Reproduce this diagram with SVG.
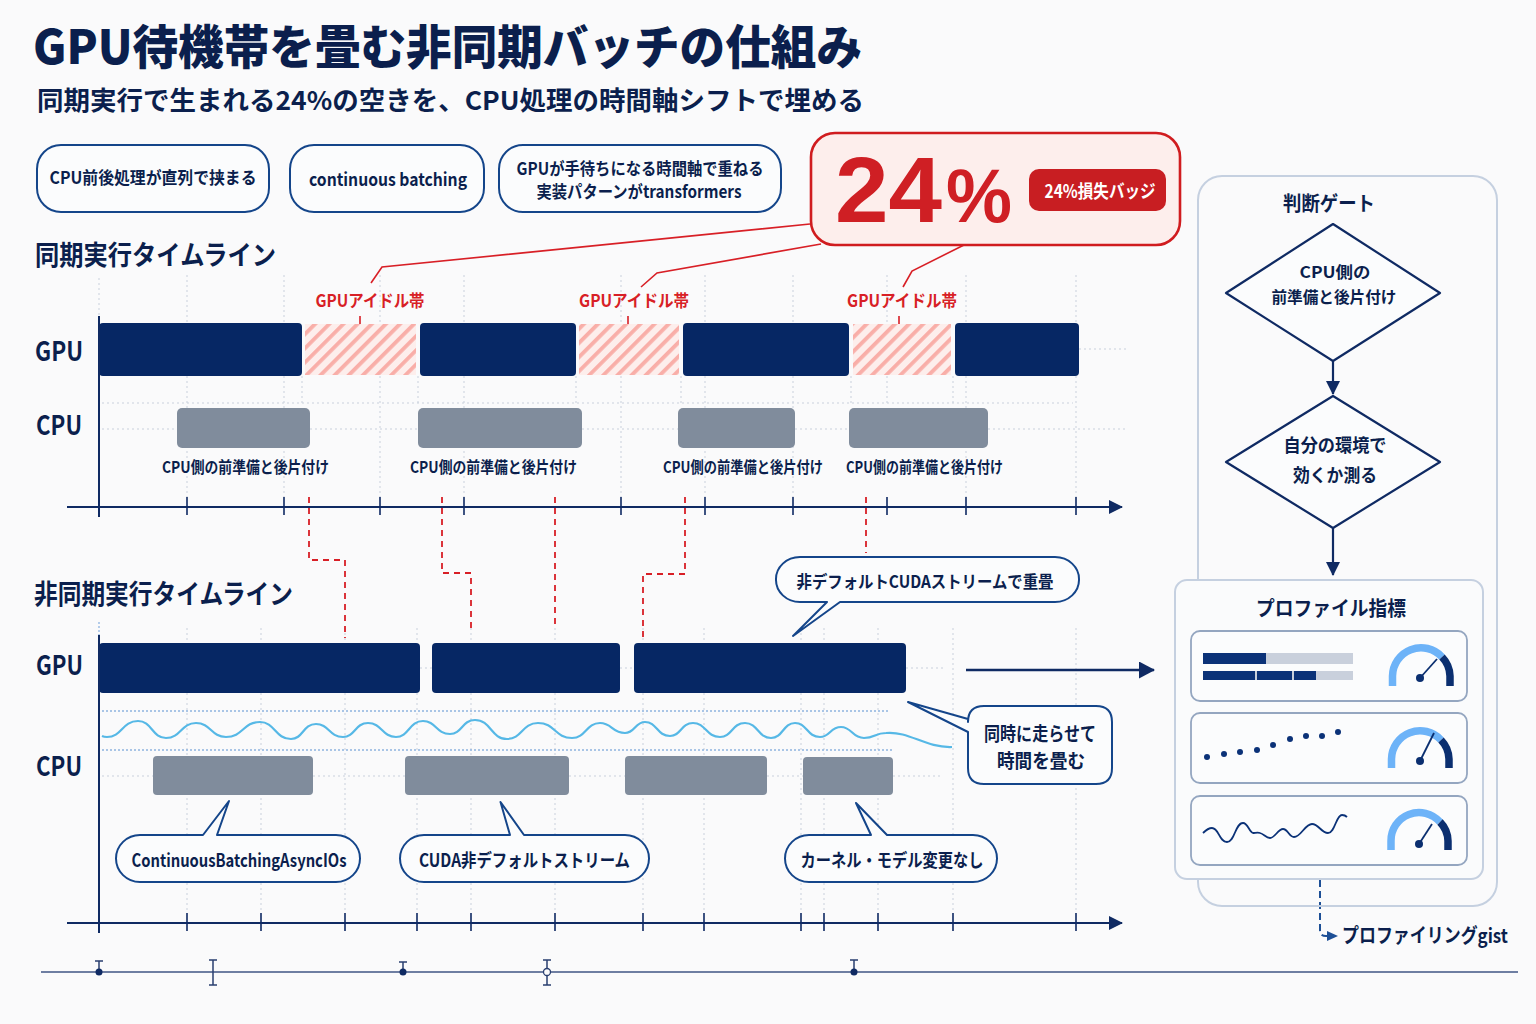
<svg xmlns="http://www.w3.org/2000/svg" width="1536" height="1024" viewBox="0 0 1536 1024">
<style>
text{font-family:"Noto Sans CJK JP","Noto Sans",sans-serif;fill:#0b1f4d;font-weight:700;text-anchor:middle;dominant-baseline:central}
.st{text-anchor:start}
.b{font-weight:700}
.grid{stroke:#c9d0dc;stroke-width:1;stroke-dasharray:2 3;fill:none}
.bl{stroke:#8fb4e0;stroke-width:1.3;stroke-dasharray:2 2;fill:none}
.axis{stroke:#0f2a63;stroke-width:2;fill:none}
.tick{stroke:#0f2a63;stroke-width:1.6;fill:none}
.gpu{fill:#062764}
.cpu{fill:#808c9c}
.idle{fill:url(#hatch)}
.red{stroke:#d81f26;stroke-width:1.6;fill:none}
.reddash{stroke:#d81f26;stroke-width:1.8;stroke-dasharray:6 5;fill:none}
.pill{fill:#fbfcfd;stroke:#14458a;stroke-width:2}
.call{fill:#fbfcfd;stroke:#14458a;stroke-width:2;stroke-linejoin:round}
.idlel{fill:#d81f26;font-size:17px}
.cap{font-size:16px}
.hd{font-size:27px;font-weight:700}
.card{fill:#fbfcfd;stroke:#94a6c0;stroke-width:1.8}
.diam{fill:#fbfcfd;stroke:#0f2a63;stroke-width:2.2;stroke-linejoin:round}
.lt{fill:none;stroke:#6db3f8;stroke-width:7.500}
.dk{fill:none;stroke:#0b2f70;stroke-width:7.500}
.ndl{stroke:#0b2f70;stroke-width:1.8;fill:none}
.hub{fill:#0b2f70}
.bg{fill:#c9d0dc}
.fg{fill:#0b3278}
.mk{stroke:#2a3f70;stroke-width:1.5;fill:none}
</style>
<defs>
<pattern id="hatch" width="10" height="10" patternUnits="userSpaceOnUse" patternTransform="rotate(45)">
<rect width="10" height="10" fill="#fdeeec"/><rect width="3.800" height="10" fill="#f9aea8"/>
</pattern>
<marker id="ah" markerWidth="16" markerHeight="16" refX="13" refY="7" orient="auto" markerUnits="userSpaceOnUse"><path d="M0,0L14,7L0,14Z" fill="#0f2a63"/></marker>
<marker id="ahl" markerWidth="18" markerHeight="18" refX="15" refY="8.500" orient="auto" markerUnits="userSpaceOnUse"><path d="M0,0L16,8.500L0,17Z" fill="#0f2a63"/></marker>
</defs>
<rect width="1536" height="1024" fill="#fafafb"/>

<g id="heading">
<text class="st" x="33" y="43" font-size="47" textLength="829" lengthAdjust="spacingAndGlyphs" style="font-weight:900">GPU待機帯を畳む非同期バッチの仕組み</text>
<text class="st b" x="37" y="98" font-size="26" textLength="827" lengthAdjust="spacingAndGlyphs">同期実行で生まれる24%の空きを、CPU処理の時間軸シフトで埋める</text>
</g>

<g id="grid">
<path class="grid" d="M99,278V316M187,275V323M187,376V497M284,275V323M284,376V497M380,275V323M380,376V497M464,275V323M464,376V497M621,275V323M621,376V497M705,275V323M705,376V497M793,275V323M793,376V497M887,275V323M887,376V403M966,275V323M966,376V497M1076,275V323M1076,376V497M302,376V403M418,376V403M576,376V403M681,376V403M851,376V403M953,376V403"/>
<path class="grid" d="M102,403H1073M102,429H177M310,429H418M582,429H678M795,429H849M988,429H1128M1079,349H1128"/>
<path class="grid" d="M187,628V643M187,693V913M261,628V643M261,693V913M345,628V643M345,693V913M417,628V643M417,693V913M471,628V643M471,693V913M555,628V643M555,693V913M643,628V643M643,693V913M704,628V643M704,693V913M801,628V643M801,693V913M824,628V643M824,693V913M878,628V643M878,693V913M953,628V913M1076,628V913"/>
<path class="grid" d="M102,776H153M313,776H405M569,776H625M767,776H803M893,776H943M906,668H945M420,668H432M620,668H634"/>
<path class="bl" d="M102,711H888M102,750H894M99,622V635"/>
</g>

<g id="connectors">
<path class="red" d="M810,224L382,267L371,283"/>
<path class="red" d="M821,244L657,273L641,287"/>
<path class="red" d="M964,245L912,271L903,287"/>
<path class="red" d="M360,316V327M628,316V328M899,316V329"/>
<path class="reddash" d="M309,497V560H345V638"/>
<path class="reddash" d="M442,497V573H471V632"/>
<path class="reddash" d="M555,497V628"/>
<path class="reddash" d="M685,497V574H643V640"/>
<path class="reddash" d="M866,497V553"/>
<path d="M966,670H1154" stroke="#0f2a63" stroke-width="2.400" fill="none" marker-end="url(#ahl)"/>
<path d="M1333,361V394" stroke="#0f2a63" stroke-width="2.200" fill="none" marker-end="url(#ah)"/>
<path d="M1333,528V575" stroke="#0f2a63" stroke-width="2.200" fill="none" marker-end="url(#ah)"/>
<path d="M1320,880V930Q1320,936 1326,936H1334" stroke="#1d4f96" stroke-width="2" stroke-dasharray="7 4" fill="none"/>
<path d="M1327,931L1338,936L1327,941Z" fill="#1d4f96"/>
</g>

<g id="pill-serial"><rect class="pill" x="37" y="145" width="232" height="67" rx="24"/><text x="153" y="176" font-size="17" textLength="207" lengthAdjust="spacingAndGlyphs">CPU前後処理が直列で挟まる</text></g>
<g id="pill-batching"><rect class="pill" x="290" y="145" width="194" height="67" rx="24"/><text x="388" y="178" font-size="18" textLength="158" lengthAdjust="spacingAndGlyphs">continuous batching</text></g>
<g id="pill-transformers"><rect class="pill" x="499" y="145" width="282" height="67" rx="24"/><text x="640" y="167" font-size="17" textLength="247" lengthAdjust="spacingAndGlyphs">GPUが手待ちになる時間軸で重ねる</text><text x="639" y="190" font-size="17" textLength="205" lengthAdjust="spacingAndGlyphs">実装パターンがtransformers</text></g>

<g id="loss-badge">
<rect x="811" y="133" width="369" height="112" rx="24" fill="#fdeeec" stroke="#d01c1f" stroke-width="2.600"/>
<text class="st" x="835" y="222" font-size="93" style="font-family:'Liberation Sans',sans-serif;font-weight:700;fill:#cf1f24;dominant-baseline:auto"><tspan textLength="107" lengthAdjust="spacingAndGlyphs">24</tspan><tspan x="946" font-size="76" textLength="66" lengthAdjust="spacingAndGlyphs">%</tspan></text>
<rect x="1029" y="169" width="137" height="42" rx="10" fill="#c81e22"/>
<text x="1100" y="190" font-size="18" textLength="111" lengthAdjust="spacingAndGlyphs" style="fill:#fff">24%損失バッジ</text>
</g>

<g id="sync-timeline">
<text class="st hd" x="35" y="253" textLength="241" lengthAdjust="spacingAndGlyphs">同期実行タイムライン</text>
<text class="st hd" x="35" y="349" textLength="48" lengthAdjust="spacingAndGlyphs">GPU</text>
<text class="st hd" x="36" y="423" textLength="46" lengthAdjust="spacingAndGlyphs">CPU</text>
<g id="sync-gpu">
<rect class="gpu" x="99" y="323" width="203" height="53" rx="4"/><rect class="gpu" x="420" y="323" width="156" height="53" rx="4"/><rect class="gpu" x="683" y="323" width="166" height="53" rx="4"/><rect class="gpu" x="955" y="323" width="124" height="53" rx="4"/>
</g>
<g id="sync-idle">
<rect class="idle" x="305" y="324" width="111" height="51"/><rect class="idle" x="579" y="324" width="100" height="51"/><rect class="idle" x="853" y="324" width="98" height="51"/>
<text class="idlel" x="370" y="299" textLength="109" lengthAdjust="spacingAndGlyphs">GPUアイドル帯</text>
<text class="idlel" x="634" y="299" textLength="110" lengthAdjust="spacingAndGlyphs">GPUアイドル帯</text>
<text class="idlel" x="902" y="299" textLength="110" lengthAdjust="spacingAndGlyphs">GPUアイドル帯</text>
</g>
<g id="sync-cpu">
<rect class="cpu" x="177" y="408" width="133" height="40" rx="5"/><rect class="cpu" x="418" y="408" width="164" height="40" rx="5"/><rect class="cpu" x="678" y="408" width="117" height="40" rx="5"/><rect class="cpu" x="849" y="408" width="139" height="40" rx="5"/>
<text class="cap" x="245.500" y="466" textLength="167" lengthAdjust="spacingAndGlyphs">CPU側の前準備と後片付け</text>
<text class="cap" x="493.500" y="466" textLength="167" lengthAdjust="spacingAndGlyphs">CPU側の前準備と後片付け</text>
<text class="cap" x="743" y="466" textLength="160" lengthAdjust="spacingAndGlyphs">CPU側の前準備と後片付け</text>
<text class="cap" x="924.500" y="466" textLength="157" lengthAdjust="spacingAndGlyphs">CPU側の前準備と後片付け</text>
</g>
<path class="axis" d="M99,316V517"/>
<path class="axis" d="M67,507H1122" marker-end="url(#ah)"/>
<path class="tick" d="M187,497V515M284,497V515M380,497V515M464,497V515M621,497V515M705,497V515M793,497V515M887,497V515M966,497V515M1076,497V515"/>
</g>

<g id="async-timeline">
<text class="st hd" x="34" y="592" textLength="259" lengthAdjust="spacingAndGlyphs">非同期実行タイムライン</text>
<text class="st hd" x="36" y="663" textLength="47" lengthAdjust="spacingAndGlyphs">GPU</text>
<text class="st hd" x="36" y="764" textLength="46" lengthAdjust="spacingAndGlyphs">CPU</text>
<g id="async-gpu">
<rect class="gpu" x="99" y="643" width="321" height="50" rx="4"/><rect class="gpu" x="432" y="643" width="188" height="50" rx="4"/><rect class="gpu" x="634" y="643" width="272" height="50" rx="4"/>
</g>
<path id="cpu-wave" d="M102,736C104,737 105,737 107,737C122,737 122,721 138,721C152,721 152,738 166,738C181,738 181,723 196,723C211,723 211,737 226,737C243,737 243,722 260,722C275,722 275,739 291,739C303,739 303,724 316,724C329,724 329,737 343,737C355,737 355,723 368,723C382,723 382,737 396,737C409,737 409,721 423,721C436,721 436,734 450,734C462,734 462,720 475,720C491,720 491,739 507,739C522,739 522,723 538,723C555,723 555,738 572,738C586,738 586,723 600,723C612,723 612,733 625,733C635,733 635,722 645,722C657,722 657,736 670,736C681,736 681,723 693,723C706,723 706,737 720,737C732,737 732,723 745,723C758,723 758,738 771,738C783,738 783,723 795,723C807,723 807,737 820,737C830,737 830,727 841,727C852,727 852,738 864,738C875,738 875,733 886,733C910,731 925,748 952,747" fill="none" stroke="#56b8e6" stroke-width="2.200"/>
<g id="async-cpu">
<rect class="cpu" x="153" y="756" width="160" height="39" rx="4"/><rect class="cpu" x="405" y="756" width="164" height="39" rx="4"/><rect class="cpu" x="625" y="756" width="142" height="39" rx="4"/><rect class="cpu" x="803" y="757" width="90" height="38" rx="4"/>
</g>
<path class="axis" d="M99,635V933"/>
<path class="axis" d="M67,923H1122" marker-end="url(#ah)"/>
<path class="tick" d="M187,913V931M261,913V931M345,913V931M417,913V931M471,913V931M555,913V931M643,913V931M704,913V931M801,913V931M824,913V931M878,913V931M953,913V931M1076,913V931"/>
</g>

<g id="callout-overlap"><path class="call" d="M800,557H1055A24,22 0 0 1 1079,579.500A24,22 0 0 1 1055,602H840L793,636L827,602H800A24,22 0 0 1 776,579.500A24,22 0 0 1 800,557Z"/><text x="925" y="580" font-size="17" textLength="257" lengthAdjust="spacingAndGlyphs">非デフォルトCUDAストリームで重畳</text></g>
<g id="callout-fold"><path class="call" d="M984,706H1096Q1112,706 1112,722V768Q1112,784 1096,784H984Q968,784 968,768V732L908,702L968,719V722Q968,706 984,706Z"/><text x="1040" y="732" font-size="19" textLength="112" lengthAdjust="spacingAndGlyphs">同時に走らせて</text><text x="1041" y="759" font-size="19" textLength="88" lengthAdjust="spacingAndGlyphs">時間を畳む</text></g>
<g id="callout-asyncio"><path class="call" d="M140,835H203L229,801L217,835H336A24,23.500 0 0 1 360,858.500A24,23.500 0 0 1 336,882H140A24,23.500 0 0 1 116,858.500A24,23.500 0 0 1 140,835Z"/><text x="239" y="859" font-size="18" textLength="215" lengthAdjust="spacingAndGlyphs">ContinuousBatchingAsyncIOs</text></g>
<g id="callout-cuda"><path class="call" d="M424,835H510L500.500,802L524,835H625A24,23.500 0 0 1 649,858.500A24,23.500 0 0 1 625,882H424A24,23.500 0 0 1 400,858.500A24,23.500 0 0 1 424,835Z"/><text x="524.500" y="859" font-size="18" textLength="211" lengthAdjust="spacingAndGlyphs">CUDA非デフォルトストリーム</text></g>
<g id="callout-kernel"><path class="call" d="M809,835H871L856,803L887,835H973A24,23.500 0 0 1 997,858.500A24,23.500 0 0 1 973,882H809A24,23.500 0 0 1 785,858.500A24,23.500 0 0 1 809,835Z"/><text x="892" y="859" font-size="18" textLength="183" lengthAdjust="spacingAndGlyphs">カーネル・モデル変更なし</text></g>

<g id="bottom-scale">
<path d="M41,972H1518" stroke="#3f5485" stroke-width="1.600" fill="none"/>
<path class="mk" d="M95,961H103M99,961V972"/><circle cx="99" cy="972" r="3.500" fill="#0f2a63"/>
<path class="mk" d="M209,960H217M213,960V985M209,985H217"/>
<path class="mk" d="M399,962H407M403,962V972"/><circle cx="403" cy="972" r="3.500" fill="#0f2a63"/>
<path class="mk" d="M543,960H551M547,960V985M543,985H551"/><circle cx="547" cy="972" r="3.500" fill="#fafafb" stroke="#2a3f70" stroke-width="1.300"/>
<path class="mk" d="M850,960H858M854,960V972"/><circle cx="854" cy="972" r="3.500" fill="#0f2a63"/>
</g>

<g id="gate-panel">
<rect x="1198" y="176" width="299" height="730" rx="24" fill="none" stroke="#c5d0e0" stroke-width="2"/>
<text class="b" x="1329" y="202" font-size="20" textLength="92" lengthAdjust="spacingAndGlyphs">判断ゲート</text>
</g>
<g id="gate-cpu"><path class="diam" d="M1333,224L1440,293L1333,361L1226,293Z"/><text x="1335" y="271" font-size="16" textLength="71" lengthAdjust="spacingAndGlyphs">CPU側の</text><text x="1334" y="296" font-size="16" textLength="125" lengthAdjust="spacingAndGlyphs">前準備と後片付け</text></g>
<g id="gate-measure"><path class="diam" d="M1333,396L1440,462L1333,528L1226,462Z"/><text x="1335" y="444" font-size="18" textLength="103" lengthAdjust="spacingAndGlyphs">自分の環境で</text><text x="1335" y="474" font-size="18" textLength="84" lengthAdjust="spacingAndGlyphs">効くか測る</text></g>

<g id="profile-panel">
<rect x="1175" y="580" width="308" height="299" rx="12" fill="#fafbfc" stroke="#c5d0e0" stroke-width="2"/>
<text class="b" x="1331" y="607" font-size="20" textLength="150" lengthAdjust="spacingAndGlyphs">プロファイル指標</text>
<g id="metric-bars">
<rect class="card" x="1191" y="631" width="276" height="70" rx="9"/>
<rect class="bg" x="1203" y="653" width="150" height="11"/><rect class="fg" x="1203" y="653" width="63" height="11"/>
<rect class="bg" x="1203" y="671" width="150" height="9"/><rect class="fg" x="1203" y="671" width="52" height="9"/><rect class="fg" x="1257" y="671" width="35" height="9"/><rect class="fg" x="1294" y="671" width="22" height="9"/>
<path class="lt" d="M1392.500,686V676A28.500,28.500 0 0 1 1442,657"/><path class="dk" d="M1442,657A28.500,28.500 0 0 1 1450,676V686"/>
<path class="ndl" d="M1420,678L1437,659"/><circle class="hub" cx="1420" cy="678" r="4"/>
</g>
<g id="metric-dots">
<rect class="card" x="1191" y="713" width="276" height="70" rx="9"/>
<g fill="#0b3278"><circle cx="1207" cy="757" r="3"/><circle cx="1224" cy="754" r="3"/><circle cx="1240" cy="752" r="3"/><circle cx="1257" cy="750" r="3"/><circle cx="1273" cy="745" r="3"/><circle cx="1290" cy="739" r="3"/><circle cx="1306" cy="736" r="3"/><circle cx="1322" cy="736" r="3"/><circle cx="1338" cy="732" r="3"/></g>
<path class="lt" d="M1391.500,768V759A28.500,28.500 0 0 1 1441,740"/><path class="dk" d="M1441,740A28.500,28.500 0 0 1 1449,759V768"/>
<path class="ndl" d="M1420,761L1434,733"/><circle class="hub" cx="1420" cy="761" r="4"/>
</g>
<g id="metric-wave">
<rect class="card" x="1191" y="796" width="276" height="69" rx="9"/>
<path d="M1203,833C1206,830 1209,828 1212,828C1219,828 1219,842 1227,842C1235,842 1235,823 1243,823C1248,823 1249,832 1253,833C1255,833 1258,832 1260,833C1264,834 1266,838 1270,838C1275,838 1278,829 1283,829C1288,829 1289,837 1294,837C1301,837 1305,824 1312,824C1319,824 1321,833 1328,833C1335,833 1336,815 1342,815C1344,815 1346,816 1347,817" fill="none" stroke="#0b3278" stroke-width="1.800"/>
<path class="lt" d="M1391,850V841A28,28 0 0 1 1440,822"/><path class="dk" d="M1440,822A28,28 0 0 1 1448,841V850"/>
<path class="ndl" d="M1419,844L1432,824"/><circle class="hub" cx="1419" cy="844" r="4"/>
</g>
</g>

<g id="gist-link"><text class="st" x="1342" y="934" font-size="20" textLength="166" lengthAdjust="spacingAndGlyphs">プロファイリングgist</text></g>
</svg>
